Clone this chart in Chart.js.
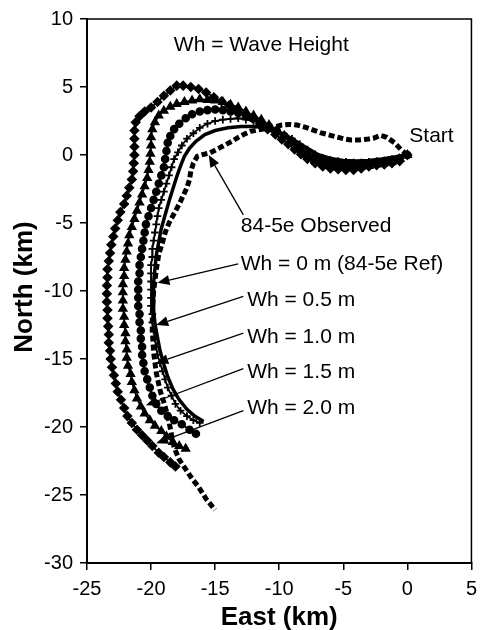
<!DOCTYPE html>
<html>
<head>
<meta charset="utf-8">
<script src="https://cdn.jsdelivr.net/npm/chart.js@4.4.0/dist/chart.umd.min.js"></script>
<style>
  body { margin: 0; background: #fff; }
  #wrap { width: 484px; height: 630px; }
</style>
</head>
<body>
<div id="wrap"><canvas id="chart" width="484" height="630"></canvas></div>
<script>
// drift tracks, [east km, north km], all starting at the release point (0, 0)
const observedTrack = [
  [0, 0], [-0.5, 0.4], [-1.0, 0.9], [-1.6, 1.3], [-2.1, 1.45], [-2.6, 1.25], [-3.2, 1.15], [-3.8, 1.1],
  [-4.4, 1.1], [-5.0, 1.2], [-5.6, 1.35], [-6.2, 1.5], [-6.8, 1.65], [-7.4, 1.85], [-8.0, 2.05],
  [-8.6, 2.2], [-9.2, 2.25], [-9.8, 2.2], [-10.4, 2.05], [-11.0, 1.95], [-11.6, 1.85], [-12.2, 1.75],
  [-12.7, 1.55], [-13.2, 1.3], [-13.7, 1.0], [-14.3, 0.7], [-14.8, 0.45], [-15.4, 0.15], [-15.9, 0.05],
  [-16.4, -0.1], [-16.7, -0.6], [-16.9, -1.2], [-17.0, -1.8], [-17.2, -2.4], [-17.5, -3.0], [-17.8, -3.6],
  [-18.2, -4.3], [-18.6, -5.0], [-18.9, -5.7], [-19.1, -6.4], [-19.4, -7.3], [-19.6, -8.5], [-19.8, -10.0],
  [-19.9, -11.5], [-19.9, -13.0], [-19.8, -14.5], [-19.6, -16.0], [-19.3, -17.3], [-18.9, -18.5],
  [-18.6, -19.6], [-18.4, -20.6], [-18.2, -21.5], [-17.8, -22.4], [-17.3, -23.1], [-16.8, -23.8],
  [-16.3, -24.4], [-15.7, -25.3], [-15.0, -26.1]
];

const wh0Track = [
  [0, 0], [-1.0, -0.15], [-2.0, -0.3], [-3.0, -0.4], [-4.0, -0.45], [-5.0, -0.4], [-6.0, -0.25],
  [-7.0, 0.05], [-8.0, 0.6], [-9.0, 1.2], [-10.0, 1.7], [-11.0, 2.0], [-12.0, 2.1], [-13.0, 2.1],
  [-14.0, 2.0], [-15.0, 1.8], [-15.8, 1.5], [-16.5, 1.0], [-17.0, 0.5], [-17.4, -0.1], [-17.7, -0.8],
  [-18.0, -1.6], [-18.3, -2.5], [-18.6, -3.4], [-18.9, -4.4], [-19.2, -5.4], [-19.4, -6.4], [-19.6, -7.4],
  [-19.7, -8.4], [-19.8, -9.4], [-19.8, -10.4], [-19.8, -11.4], [-19.7, -12.4], [-19.5, -13.4],
  [-19.3, -14.4], [-19.0, -15.4], [-18.7, -16.3], [-18.3, -17.2], [-17.8, -18.0], [-17.2, -18.7],
  [-16.6, -19.2], [-15.9, -19.6]
];

const wh05Track = [
  [0, 0], [-0.6, -0.2], [-1.2, -0.3], [-1.8, -0.4], [-2.4, -0.45], [-3.0, -0.5], [-3.6, -0.55],
  [-4.2, -0.55], [-4.8, -0.5], [-5.4, -0.45], [-6.0, -0.35], [-6.6, -0.2], [-7.2, 0.05], [-7.8, 0.4],
  [-8.4, 0.8], [-9.0, 1.2], [-9.6, 1.5], [-10.2, 1.8], [-10.8, 2.1], [-11.4, 2.3], [-12.0, 2.5],
  [-12.6, 2.6], [-13.2, 2.7], [-13.8, 2.65], [-14.4, 2.6], [-15.0, 2.5], [-15.6, 2.3], [-16.2, 2.0],
  [-16.7, 1.6], [-17.2, 1.2], [-17.6, 0.7], [-17.9, 0.2], [-18.2, -0.3], [-18.4, -0.9], [-18.6, -1.5],
  [-18.8, -2.1], [-19.0, -2.7], [-19.2, -3.3], [-19.4, -3.9], [-19.5, -4.5], [-19.6, -5.1], [-19.7, -5.7],
  [-19.8, -6.3], [-19.9, -6.9], [-19.9, -7.5], [-20.0, -8.1], [-20.0, -8.7], [-20.0, -9.3], [-20.0, -9.9],
  [-20.0, -10.5], [-20.0, -11.1], [-19.9, -11.7], [-19.9, -12.3], [-19.8, -12.9], [-19.7, -13.5],
  [-19.6, -14.1], [-19.5, -14.7], [-19.3, -15.3], [-19.1, -15.9], [-18.9, -16.5], [-18.7, -17.1],
  [-18.4, -17.7], [-18.1, -18.3], [-17.7, -18.8], [-17.2, -19.2], [-16.7, -19.5], [-16.2, -19.7]
];

const wh10Track = [
  [0, 0], [-0.6, -0.25], [-1.2, -0.4], [-1.8, -0.5], [-2.4, -0.6], [-3.0, -0.65], [-3.6, -0.7],
  [-4.2, -0.7], [-4.8, -0.7], [-5.4, -0.65], [-6.0, -0.55], [-6.6, -0.4], [-7.2, -0.15], [-7.8, 0.2],
  [-8.4, 0.6], [-9.0, 1.0], [-9.6, 1.4], [-10.2, 1.8], [-10.8, 2.1], [-11.4, 2.4], [-12.0, 2.7],
  [-12.6, 2.9], [-13.2, 3.1], [-13.8, 3.2], [-14.4, 3.3], [-15.0, 3.35], [-15.6, 3.3], [-16.2, 3.2],
  [-16.8, 3.0], [-17.3, 2.7], [-17.8, 2.3], [-18.2, 1.9], [-18.5, 1.4], [-18.7, 0.9], [-18.8, 0.3],
  [-18.9, -0.3], [-19.0, -0.9], [-19.2, -1.5], [-19.4, -2.1], [-19.6, -2.7], [-19.8, -3.3], [-20.0, -3.9],
  [-20.2, -4.5], [-20.4, -5.1], [-20.5, -5.7], [-20.6, -6.3], [-20.7, -6.9], [-20.8, -7.5], [-20.9, -8.1],
  [-20.9, -8.7], [-21.0, -9.3], [-21.0, -9.9], [-21.0, -10.5], [-21.0, -11.1], [-20.9, -11.7],
  [-20.9, -12.3], [-20.8, -12.9], [-20.8, -13.5], [-20.7, -14.1], [-20.7, -14.7], [-20.6, -15.3],
  [-20.5, -15.9], [-20.3, -16.5], [-20.1, -17.1], [-19.9, -17.7], [-19.6, -18.3], [-19.2, -18.8],
  [-18.7, -19.2], [-18.2, -19.5], [-17.6, -19.8], [-17.0, -20.2], [-16.5, -20.5]
];

const wh15Track = [
  [0, 0], [-0.6, -0.3], [-1.2, -0.5], [-1.8, -0.6], [-2.4, -0.7], [-3.0, -0.8], [-3.6, -0.85],
  [-4.2, -0.9], [-4.8, -0.9], [-5.4, -0.85], [-6.0, -0.75], [-6.6, -0.6], [-7.2, -0.35], [-7.8, 0.0],
  [-8.4, 0.4], [-9.0, 0.9], [-9.6, 1.4], [-10.2, 1.8], [-10.8, 2.2], [-11.4, 2.6], [-12.0, 2.9],
  [-12.6, 3.2], [-13.2, 3.5], [-13.8, 3.7], [-14.4, 3.9], [-15.0, 4.0], [-15.6, 4.05], [-16.2, 4.1],
  [-16.8, 4.0], [-17.4, 3.9], [-18.0, 3.75], [-18.5, 3.55], [-19.0, 3.25], [-19.4, 2.9], [-19.7, 2.4],
  [-19.9, 1.9], [-20.0, 1.3], [-20.0, 0.7], [-20.05, 0.1], [-20.1, -0.5], [-20.2, -1.1], [-20.3, -1.7],
  [-20.5, -2.3], [-20.7, -2.9], [-20.9, -3.5], [-21.1, -4.1], [-21.3, -4.7], [-21.5, -5.3], [-21.7, -5.9],
  [-21.8, -6.5], [-21.9, -7.1], [-22.0, -7.7], [-22.1, -8.3], [-22.1, -8.9], [-22.2, -9.5], [-22.2, -10.1],
  [-22.2, -10.7], [-22.2, -11.3], [-22.1, -11.9], [-22.1, -12.5], [-22.0, -13.1], [-22.0, -13.7],
  [-21.9, -14.3], [-21.9, -14.9], [-21.8, -15.5], [-21.6, -16.1], [-21.5, -16.7], [-21.3, -17.3],
  [-21.1, -17.9], [-20.8, -18.5], [-20.5, -19.0], [-20.1, -19.5], [-19.7, -19.9], [-19.2, -20.3],
  [-18.8, -20.7], [-18.3, -21.1], [-17.8, -21.4], [-17.3, -21.6]
];

const wh20Track = [
  [0, 0], [-0.6, -0.45], [-1.2, -0.6], [-1.8, -0.7], [-2.4, -0.75], [-3.0, -0.85], [-3.6, -1.0],
  [-4.2, -1.1], [-4.8, -1.1], [-5.4, -1.05], [-6.0, -1.0], [-6.6, -0.85], [-7.2, -0.6], [-7.8, -0.3],
  [-8.3, 0.05], [-8.8, 0.4], [-9.3, 0.8], [-9.8, 1.15], [-10.3, 1.5], [-10.9, 1.9], [-11.5, 2.3],
  [-12.1, 2.7], [-12.7, 3.05], [-13.3, 3.35], [-13.9, 3.65], [-14.5, 3.95], [-15.1, 4.25], [-15.7, 4.6],
  [-16.3, 4.85], [-16.9, 5.0], [-17.5, 5.1], [-18.0, 5.1], [-18.5, 4.75], [-19.0, 4.35], [-19.5, 3.9],
  [-20.0, 3.5], [-20.5, 3.2], [-20.9, 2.85], [-21.2, 2.4], [-21.3, 1.8], [-21.3, 1.2], [-21.3, 0.6],
  [-21.3, 0.0], [-21.35, -0.6], [-21.4, -1.2], [-21.5, -1.8], [-21.7, -2.4], [-21.9, -3.0], [-22.1, -3.6],
  [-22.4, -4.2], [-22.6, -4.8], [-22.8, -5.4], [-22.95, -6.0], [-23.1, -6.6], [-23.2, -7.2], [-23.3, -7.8],
  [-23.4, -8.4], [-23.4, -9.0], [-23.45, -9.6], [-23.45, -10.2], [-23.45, -10.8], [-23.4, -11.4],
  [-23.4, -12.0], [-23.35, -12.6], [-23.3, -13.2], [-23.3, -13.8], [-23.2, -14.4], [-23.15, -15.0],
  [-23.05, -15.6], [-22.9, -16.2], [-22.75, -16.8], [-22.6, -17.4], [-22.35, -18.0], [-22.1, -18.6],
  [-21.85, -19.2], [-21.5, -19.7], [-21.1, -20.2], [-20.7, -20.6], [-20.3, -21.0], [-19.9, -21.4],
  [-19.4, -21.9], [-19.0, -22.2], [-18.5, -22.6], [-18.1, -22.9]
];

// text placed on the plot, anchored in axis units
const noteTexts = ['Wh = Wave Height', 'Start', '84-5e Observed', 'Wh = 0 m (84-5e Ref)',
  'Wh = 0.5 m', 'Wh = 1.0 m', 'Wh = 1.5 m', 'Wh = 2.0 m'];
const notePos = [[-11.4, 8.1, 'center'], [0.15, 1.35, 'left'], [-13.0, -5.25, 'left'], [-13.0, -8.0, 'left'],
  [-12.5, -10.7, 'left'], [-12.5, -13.4, 'left'], [-12.5, -16.0, 'left'], [-12.5, -18.6, 'left']];

// callout arrows: [from x, from y, tip x, tip y]
const arrows = [
  [-12.8, -4.4, -15.5, 0.0],
  [-13.2, -8.0, -19.5, -9.4],
  [-12.8, -10.4, -19.6, -12.5],
  [-12.8, -13.1, -19.6, -15.3],
  [-12.8, -15.7, -20.4, -18.4],
  [-12.8, -18.8, -19.6, -21.2]
];

const FONT = "'Liberation Sans', Arial, sans-serif";

function pts(track) {
  return track.map(p => ({ x: p[0], y: p[1] }));
}

const overlay = {
  id: 'overlay',
  afterDraw(chart) {
    const ctx = chart.ctx;
    const a = chart.chartArea;
    const sx = chart.scales.x, sy = chart.scales.y;
    ctx.save();

    // top and right edges of the frame
    ctx.strokeStyle = '#000';
    ctx.lineWidth = 1.5;
    ctx.beginPath();
    ctx.moveTo(a.left, a.top);
    ctx.lineTo(a.right, a.top);
    ctx.lineTo(a.right, a.bottom);
    ctx.stroke();

    // arrows
    ctx.fillStyle = '#000';
    ctx.lineWidth = 1.3;
    arrows.forEach(ar => {
      const x0 = sx.getPixelForValue(ar[0]), y0 = sy.getPixelForValue(ar[1]);
      const x1 = sx.getPixelForValue(ar[2]), y1 = sy.getPixelForValue(ar[3]);
      const ang = Math.atan2(y1 - y0, x1 - x0);
      const len = 12, half = 5;
      const bx = x1 - len * Math.cos(ang), by = y1 - len * Math.sin(ang);
      ctx.beginPath();
      ctx.moveTo(x0, y0);
      ctx.lineTo(bx, by);
      ctx.stroke();
      ctx.beginPath();
      ctx.moveTo(x1, y1);
      ctx.lineTo(bx + half * Math.sin(ang), by - half * Math.cos(ang));
      ctx.lineTo(bx - half * Math.sin(ang), by + half * Math.cos(ang));
      ctx.closePath();
      ctx.fill();
    });

    // labels
    ctx.font = '21px ' + FONT;
    ctx.textBaseline = 'middle';
    noteTexts.forEach((t, i) => {
      const p = notePos[i];
      ctx.textAlign = p[2];
      ctx.fillText(t, sx.getPixelForValue(p[0]), sy.getPixelForValue(p[1]));
    });

    // axis titles
    ctx.font = 'bold 26px ' + FONT;
    ctx.textAlign = 'center';
    ctx.fillText('East (km)', (a.left + a.right) / 2, 618);
    ctx.translate(25, (a.top + a.bottom) / 2 - 4);
    ctx.rotate(-Math.PI / 2);
    ctx.fillText('North (km)', 0, 0);
    ctx.restore();
  }
};

const lineDefaults = { showLine: true, borderColor: '#000', backgroundColor: '#000', pointBorderColor: '#000', pointBackgroundColor: '#000' };

new Chart(document.getElementById('chart'), {
  type: 'scatter',
  data: {
    datasets: [
      Object.assign({ label: '84-5e Observed', data: pts(observedTrack), borderWidth: 5, borderDash: [6, 3], pointRadius: 0 }, lineDefaults),
      Object.assign({ label: 'Wh = 0 m', data: pts(wh0Track), borderWidth: 3.5, pointRadius: 0 }, lineDefaults),
      Object.assign({ label: 'Wh = 0.5 m', data: pts(wh05Track), borderWidth: 1.8, pointStyle: 'cross', pointRadius: 3.8, pointBorderWidth: 1.8 }, lineDefaults),
      Object.assign({ label: 'Wh = 1.0 m', data: pts(wh10Track), borderWidth: 1.8, pointStyle: 'circle', pointRadius: 3.4 }, lineDefaults),
      Object.assign({ label: 'Wh = 1.5 m', data: pts(wh15Track), borderWidth: 1.8, pointStyle: 'triangle', pointRadius: 4.2 }, lineDefaults),
      Object.assign({ label: 'Wh = 2.0 m', data: pts(wh20Track), borderWidth: 1.8, pointStyle: 'rectRot', pointRadius: 4 }, lineDefaults)
    ]
  },
  options: {
    responsive: false,
    animation: false,
    layout: { padding: { top: 17, right: 7, left: 0, bottom: 0 } },
    plugins: { legend: { display: false }, tooltip: { enabled: false } },
    scales: {
      x: {
        type: 'linear', min: -25, max: 5,
        ticks: { stepSize: 5, color: '#000', font: { family: FONT, size: 20 }, padding: 7, maxRotation: 0 },
        grid: { drawOnChartArea: false, tickLength: 7, color: '#000', lineWidth: 1.5 },
        border: { color: '#000', width: 2 },
        afterFit(scale) { scale.height = 67; }
      },
      y: {
        type: 'linear', min: -30, max: 10,
        ticks: { stepSize: 5, color: '#000', font: { family: FONT, size: 20 }, padding: 7 },
        grid: { drawOnChartArea: false, tickLength: 7, color: '#000', lineWidth: 1.5 },
        border: { color: '#000', width: 2 },
        afterFit(scale) { scale.width = 87; }
      }
    }
  },
  plugins: [overlay]
});
</script>
</body>
</html>
